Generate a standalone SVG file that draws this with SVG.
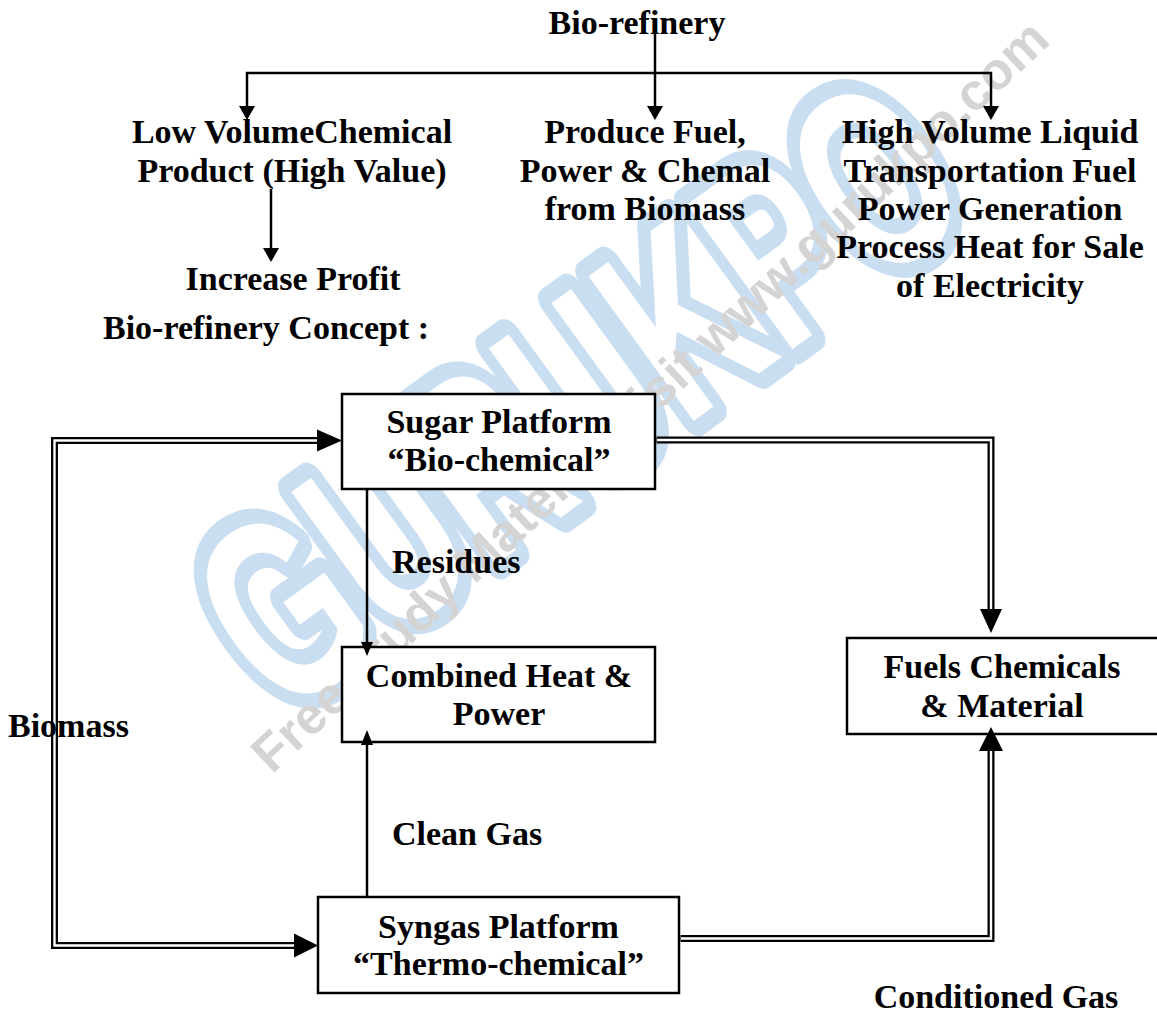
<svg xmlns="http://www.w3.org/2000/svg" width="1157" height="1015" viewBox="0 0 1157 1015">
<style>
.t{font-family:"Liberation Serif","Times New Roman",serif;font-weight:bold;font-size:34px;fill:#000}
.c{text-anchor:middle}
.box{fill:#fff;stroke:#000;stroke-width:2.5}
.ln{fill:none;stroke:#000;stroke-width:2.5}
.dbo{fill:none;stroke:#000;stroke-width:7}
.dbi{fill:none;stroke:#fff;stroke-width:2.4}
.ah{fill:#000}
.wm{font-family:"Liberation Sans",Arial,sans-serif;font-weight:bold}
</style>
<rect x="0" y="0" width="1157" height="1015" fill="#fff"/>
<g id="watermark">
<text class="wm" x="0" y="0" font-size="260" fill="#fff" stroke="#cadef2" stroke-width="34" stroke-linejoin="round" paint-order="stroke" transform="translate(282,720) rotate(-36) scale(0.65,1)">GURUKPO</text>
<text class="wm" x="0" y="0" font-size="52" fill="#d4d4d4" transform="translate(272,775) rotate(-43.2)">Free study Material visit www.gurukpo.com</text>
</g>
<g id="n-sugar"><rect class="box" x="342" y="394" width="313" height="95"/><text class="t c" x="499" y="433">Sugar Platform</text><text class="t c" x="499" y="471">“Bio-chemical”</text></g>
<g id="n-chp"><rect class="box" x="342" y="647" width="313" height="95"/><text class="t c" x="499" y="687">Combined Heat &amp;</text><text class="t c" x="499" y="725">Power</text></g>
<g id="n-fuels"><rect class="box" x="847" y="638" width="330" height="96"/><text class="t c" x="1002" y="678">Fuels Chemicals</text><text class="t c" x="1002" y="717">&amp; Material</text></g>
<g id="n-syngas"><rect class="box" x="318" y="897" width="361" height="96"/><text class="t c" x="498.5" y="938">Syngas Platform</text><text class="t c" x="498.5" y="975">“Thermo-chemical”</text></g>
<g id="top-tree">
<text class="t c" x="637" y="34">Bio-refinery</text>
<path class="ln" d="M655 27V108M247 108V73H991V108"/>
<path class="ah" d="M239 106L255 106L247 120ZM647 106L663 106L655 120ZM983 106L999 106L991 120Z"/>
<g id="n-low"><text class="t c" x="292" y="143">Low VolumeChemical</text><text class="t c" x="292" y="182">Product (High Value)</text></g>
<g id="n-produce"><text class="t c" x="645" y="143">Produce Fuel,</text><text class="t c" x="645" y="182">Power &amp; Chemal</text><text class="t c" x="645" y="220">from Biomass</text></g>
<g id="n-high"><text class="t c" x="990" y="143">High Volume Liquid</text><text class="t c" x="990" y="182">Transportation Fuel</text><text class="t c" x="990" y="220">Power Generation</text><text class="t c" x="990" y="258">Process Heat for Sale</text><text class="t c" x="990" y="297">of Electricity</text></g>
<path class="ln" d="M271 189V250"/>
<path class="ah" d="M263 248L279 248L271 262Z"/>
<g id="n-profit"><text class="t c" x="293" y="290">Increase Profit</text></g>
</g>
<text class="t" x="103" y="339">Bio-refinery Concept :</text>
<g id="connectors">
<path class="dbo" d="M318 440.5H54.5V945.5H295"/>
<path class="dbi" d="M320 440.5H54.5V945.5H297"/>
<path class="ah" d="M317 429.5L342 440.5L317 451.5ZM294 933.5L318 945.5L294 957.5Z"/>
<path class="dbo" d="M656.5 440H991V611"/>
<path class="dbi" d="M657 440H991V613"/>
<path class="ah" d="M980 609L1002 609L991 633Z"/>
<path class="dbo" d="M680.5 938.5H991V749"/>
<path class="dbi" d="M681 938.5H991V747"/>
<path class="ah" d="M979 751L1003 751L991 727Z"/>
<path class="ln" d="M367 489V644"/>
<path class="ah" d="M361 642L373 642L367 656Z"/>
<path class="ln" d="M367 897V743"/>
<path class="ah" d="M361 745L373 745L367 730Z"/>
<text class="t" x="392" y="573">Residues</text>
<text class="t" x="392" y="845">Clean Gas</text>
<text class="t" x="8" y="737">Biomass</text>
<text class="t c" x="996" y="1008">Conditioned Gas</text>
</g>
</svg>
